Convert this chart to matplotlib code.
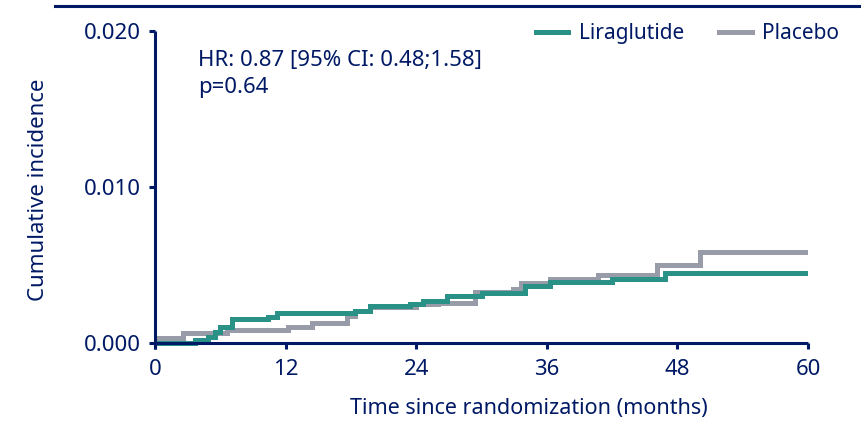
import matplotlib.pyplot as plt
from matplotlib.lines import Line2D

NAVY = '#001965'
TEAL = '#2a9187'
GREY = '#979ca8'

plt.rcParams['font.family'] = ['Noto Sans', 'DejaVu Sans']

# --- Step data (months, cumulative incidence) ---
t_lira = [0, 3.7, 4.9, 5.5, 6.0, 7.05, 10.4, 11.2, 18.4, 19.8, 23.4, 24.6,
          26.8, 30.0, 34.0, 36.3, 42.0, 46.9, 60]
cum_lira = [0, 0.00019, 0.0004, 0.00072, 0.00104, 0.00152, 0.00165, 0.0019,
            0.00207, 0.00236, 0.0025, 0.0027, 0.00298, 0.0032, 0.00365,
            0.00389, 0.00408, 0.00447, 0.00447]

t_plac = [0, 0.3, 2.6, 6.6, 12.25, 14.4, 17.6, 18.4, 19.8, 24.0, 26.0, 29.4,
          32.9, 33.6, 36.3, 40.7, 46.1, 50.1, 60]
cum_plac = [0, 0.0003, 0.00066, 0.00086, 0.00105, 0.00126, 0.00173, 0.00205,
            0.0023, 0.00248, 0.00258, 0.0033, 0.00346, 0.00383, 0.00408,
            0.00433, 0.005, 0.00581, 0.00581]

x_ticks = [0, 12, 24, 36, 48, 60]
y_ticks = [0.000, 0.010, 0.020]
y_tick_labels = ['0.000', '0.010', '0.020']

fig = plt.figure(figsize=(8.62, 4.21), dpi=100)
ax = fig.add_axes([0.1798, 0.1705, 0.7576, 0.7559])

ax.step(t_plac, cum_plac, where='post', color=GREY, lw=3.6,
        solid_joinstyle='miter', label='Placebo')
ax.step(t_lira, cum_lira, where='post', color=TEAL, lw=3.6,
        solid_joinstyle='miter', label='Liraglutide')

ax.set_xlim(0, 60)
ax.set_ylim(-0.0004, 0.020)

for s in ['top', 'right']:
    ax.spines[s].set_visible(False)
ax.spines['bottom'].set_position(('data', 0))
for s in ['left', 'bottom']:
    ax.spines[s].set_color(NAVY)
    ax.spines[s].set_linewidth(2.2)
    ax.spines[s].set_capstyle('butt')

ax.set_xticks(x_ticks)
ax.set_yticks(y_ticks)
ax.set_yticklabels(y_tick_labels)
ax.tick_params(axis='both', colors=NAVY, labelcolor=NAVY, width=2.2,
               length=4.5, labelsize=16)
ax.tick_params(axis='x', pad=7)
ax.tick_params(axis='y', pad=6)

ax.set_xlabel('Time since randomization (months)', fontsize=15.5, color=NAVY)
ax.xaxis.set_label_coords(0.573, -0.152)
ax.set_ylabel('Cumulative incidence', fontsize=16, color=NAVY)
ax.yaxis.set_label_coords(-0.163, 0.5)

ax.text(0.066, 0.94, 'HR: 0.87 [95% CI: 0.48;1.58]\np=0.64', transform=ax.transAxes,
        fontsize=16, color=NAVY, va='top', ha='left', linespacing=1.35)

handles = [Line2D([], [], color=TEAL, lw=3.6), Line2D([], [], color=GREY, lw=3.6)]
leg = fig.legend(handles, ['Liraglutide', 'Placebo'], loc='upper right',
                 bbox_to_anchor=(0.995, 0.99), ncol=2, frameon=False,
                 fontsize=15, handlelength=1.55, columnspacing=1.7,
                 handletextpad=0.5)
for txt in leg.get_texts():
    txt.set_color(NAVY)

# decorative rule at the top of the figure
fig.add_artist(Line2D([55 / 862, 1.0], [1 - 6 / 421, 1 - 6 / 421],
                      transform=fig.transFigure, color=NAVY, lw=2.2))

fig.savefig('out.png', dpi=100)
